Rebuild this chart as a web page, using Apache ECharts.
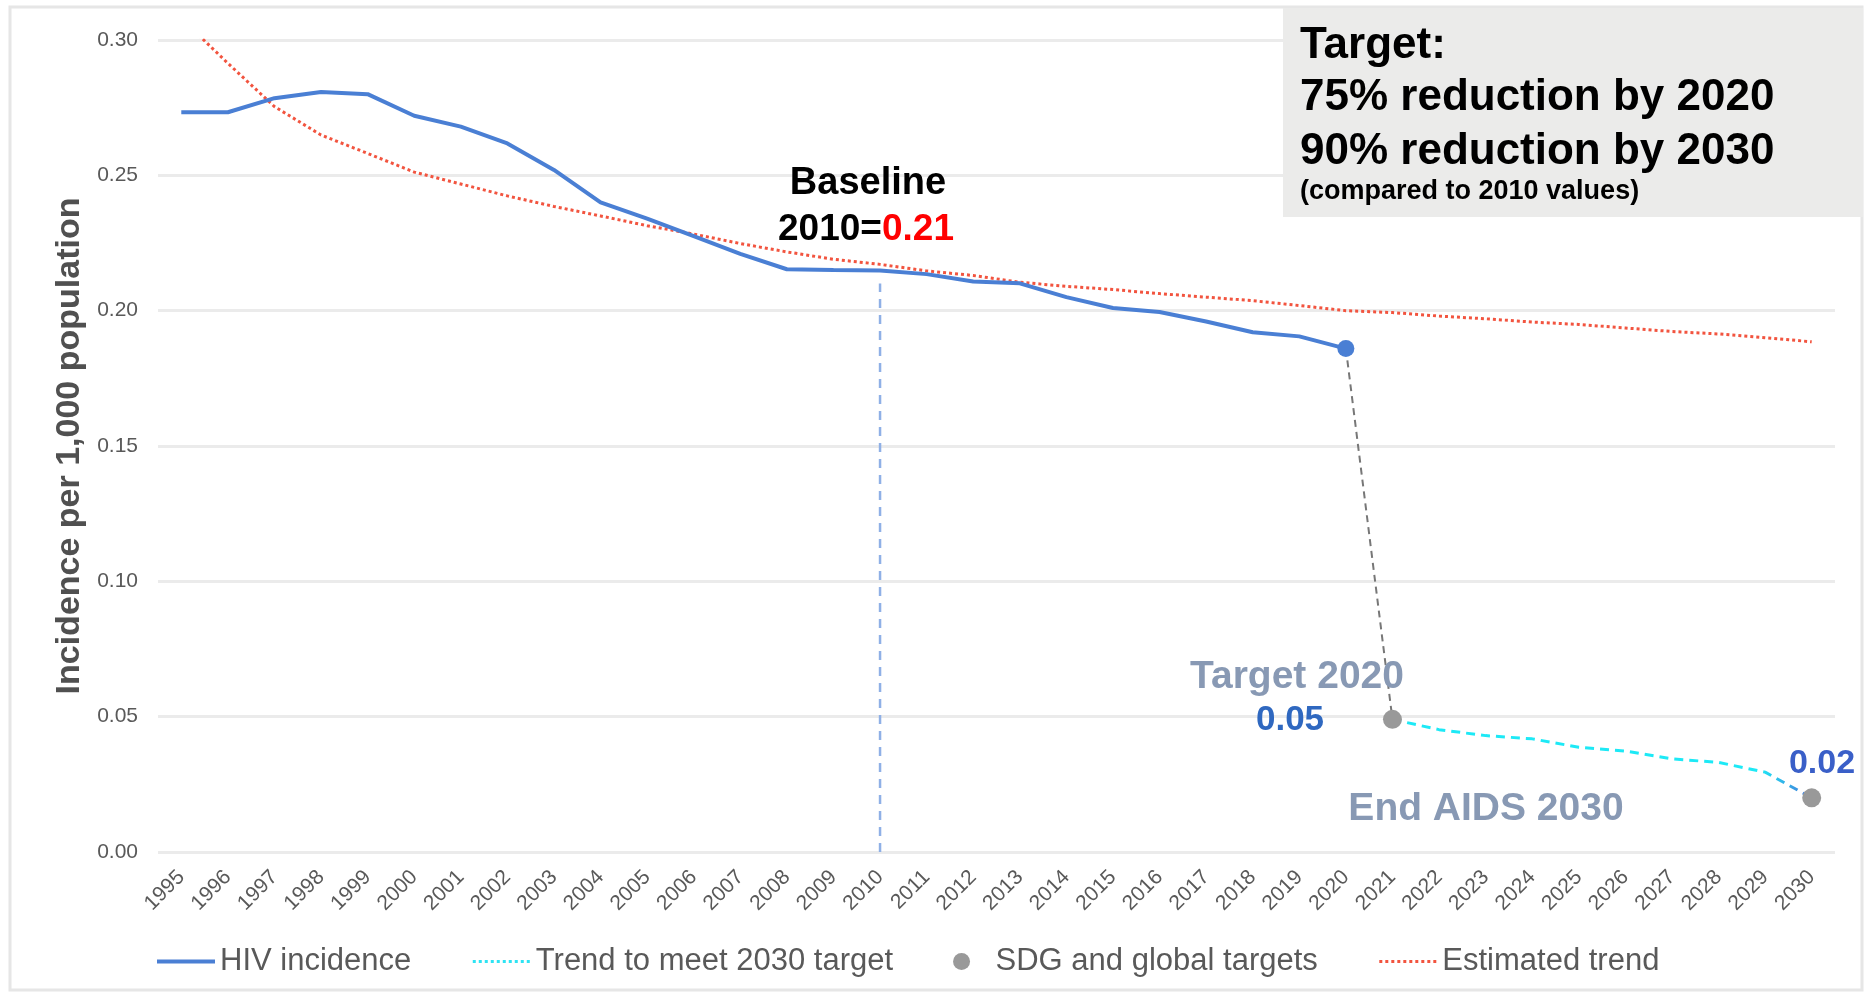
<!DOCTYPE html>
<html><head><meta charset="utf-8">
<script src="https://cdn.jsdelivr.net/npm/echarts@6/dist/echarts.min.js"></script>
<style>html,body{margin:0;padding:0;background:#fff}#c{width:1867px;height:996px}</style>
</head><body><div id="c"></div>
<script>
const years = ['1995','1996','1997','1998','1999','2000','2001','2002','2003','2004','2005','2006','2007','2008','2009','2010','2011','2012','2013','2014','2015','2016','2017','2018','2019','2020','2021','2022','2023','2024','2025','2026','2027','2028','2029','2030'];
const hivIncidence = [0.2733,0.2733,0.2785,0.2808,0.2800,0.2720,0.2680,0.2618,0.2520,0.2400,0.2340,0.2275,0.2210,0.2153,0.2150,0.2148,0.2135,0.2108,0.2101,0.2050,0.2010,0.1995,0.1960,0.1920,0.1905,0.1860,null,null,null,null,null,null,null,null,null,null];
const estimatedTrend = [0.308,0.2914,0.2754,0.2649,0.2581,0.2512,0.2468,0.2424,0.2385,0.2350,0.2314,0.2283,0.2248,0.2217,0.2190,0.2171,0.2147,0.2130,0.2105,0.2090,0.2078,0.2063,0.2050,0.2037,0.2019,0.2000,0.1993,0.1980,0.1970,0.1958,0.1949,0.1936,0.1923,0.1914,0.1900,0.1885];
const trendTo2030 = [null,null,null,null,null,null,null,null,null,null,null,null,null,null,null,null,null,null,null,null,null,null,null,null,null,null,0.049,0.0452,0.0430,0.0418,0.0387,0.0373,0.0344,0.0331,0.0295,0.020];
const connectorYears = ['2020','2021'];
const connectorValues = [0.186, 0.049];
const targetYears = ['2021','2030'];
const targetValues = [0.049, 0.020];
const baselineYear = '2010';
const baselineValue = 0.21;
const yTicks = {min:0, max:0.30, interval:0.05};

const chart = echarts.init(document.getElementById('c'), null, {renderer:'canvas'});
const FONT = 'Liberation Sans, Arial, Helvetica, sans-serif';
const lastHiv = hivIncidence.reduce((a,v,i)=> v!=null? i : a, 0);
const hivData = hivIncidence.map((v,i)=> i===lastHiv ? {value:v, symbol:'circle', symbolSize:17} : v);

chart.setOption({
  animation:false,
  backgroundColor:'#fff',
  textStyle:{fontFamily:FONT},
  grid:{left:158, right:32, top:40, bottom:144},
  xAxis:{type:'category', data:years, boundaryGap:true,
    axisLine:{show:false}, axisTick:{show:false},
    axisLabel:{rotate:45, fontSize:21, color:'#595959', margin:22, interval:0, fontFamily:FONT}},
  yAxis:{type:'value', min:yTicks.min, max:yTicks.max, interval:yTicks.interval,
    name:'Incidence per 1,000 population', nameLocation:'middle', nameGap:71,
    nameTextStyle:{fontSize:34, fontWeight:'bold', color:'#505050', fontFamily:FONT},
    axisLabel:{fontSize:21, color:'#595959', margin:20, formatter:v=>v.toFixed(2), fontFamily:FONT},
    splitLine:{lineStyle:{color:'#ebebeb', width:3}}},
  legend:{left:150, top:941, itemWidth:58, itemHeight:17, itemGap:60,
    textStyle:{fontSize:31, color:'#595959', fontFamily:FONT},
    data:[
      {name:'HIV incidence', itemStyle:{opacity:0}, lineStyle:{width:4}},
      {name:'Trend to meet 2030 target', itemStyle:{opacity:0}, lineStyle:{width:3, type:[3,3], color:'#2ee3f3'}},
      {name:'SDG and global targets'},
      {name:'Estimated trend', itemStyle:{opacity:0}, lineStyle:{width:3, type:[3,3]}}
    ]},
  series:[
    {name:'Baseline', type:'line', data:[[baselineYear,0],[baselineYear,baselineValue]], symbol:'none',
      lineStyle:{color:'#8fb0e6', width:2.5, type:[9,7]}, z:1, silent:true},
    {name:'Estimated trend', type:'line', data:estimatedTrend, symbol:'none', color:'#f2543f',
      lineStyle:{color:'#f2543f', width:3, type:[3,3]}, z:2},
    {name:'HIV incidence', type:'line', data:hivData, symbol:'none', showSymbol:true, color:'#4a7fd4',
      lineStyle:{color:'#4a7fd4', width:4}, itemStyle:{color:'#4a7fd4'}, z:4},
    {name:'Connector', type:'line', data:connectorYears.map((y,i)=>[y,connectorValues[i]]), symbol:'none',
      lineStyle:{color:'#777777', width:2, type:[7,5]}, z:3},
    {name:'Trend to meet 2030 target', type:'line', data:trendTo2030, symbol:'none', color:'#2ee3f3',
      lineStyle:{width:3, type:[9,6], color:new echarts.graphic.LinearGradient(0,0,1,0,[
        {offset:0,color:'#1de9f6'},{offset:0.87,color:'#1de9f6'},{offset:1,color:'#4a6fd8'}])}, z:3},
    {name:'SDG and global targets', type:'scatter', data:targetYears.map((y,i)=>[y,targetValues[i]]),
      symbolSize:19, itemStyle:{color:'#999999', opacity:1}, z:5}
  ],
  graphic:[
    {type:'rect', z:-10, silent:true, shape:{x:10,y:7,width:1852,height:983}, style:{fill:'none', stroke:'#e6e6e6', lineWidth:3}},
    {type:'rect', z:10, silent:true, shape:{x:1283,y:8,width:580,height:209}, style:{fill:'#ebebea'}},
    {type:'text', z:11, style:{x:1300, y:46, text:'Target:', font:'bold 44px '+FONT, fill:'#000', verticalAlign:'middle'}},
    {type:'text', z:11, style:{x:1300, y:98, text:'75% reduction by 2020', font:'bold 44px '+FONT, fill:'#000', verticalAlign:'middle'}},
    {type:'text', z:11, style:{x:1300, y:152, text:'90% reduction by 2030', font:'bold 44px '+FONT, fill:'#000', verticalAlign:'middle'}},
    {type:'text', z:11, style:{x:1300, y:192, text:'(compared to 2010 values)', font:'bold 27px '+FONT, fill:'#000', verticalAlign:'middle'}},
    {type:'text', z:11, style:{x:868, y:184, text:'Baseline', font:'bold 38px '+FONT, fill:'#000', align:'center', verticalAlign:'middle'}},
    {type:'text', z:11, style:{x:866, y:230, text:'{a|2010=}{b|0.21}', align:'center', verticalAlign:'middle',
      rich:{a:{font:'bold 37px '+FONT, fill:'#000'}, b:{font:'bold 37px '+FONT, fill:'#ff0000'}}}},
    {type:'text', z:11, style:{x:1297, y:677, text:'Target 2020', font:'bold 39px '+FONT, fill:'#8899b4', align:'center', verticalAlign:'middle'}},
    {type:'text', z:11, style:{x:1290, y:720, text:'0.05', font:'bold 35px '+FONT, fill:'#2f68c0', align:'center', verticalAlign:'middle'}},
    {type:'text', z:11, style:{x:1486, y:809, text:'End AIDS 2030', font:'bold 39px '+FONT, fill:'#8899b4', align:'center', verticalAlign:'middle'}},
    {type:'text', z:11, style:{x:1822, y:764, text:'0.02', font:'bold 34px '+FONT, fill:'#3a5fc8', align:'center', verticalAlign:'middle'}}
  ]
});
</script></body></html>
